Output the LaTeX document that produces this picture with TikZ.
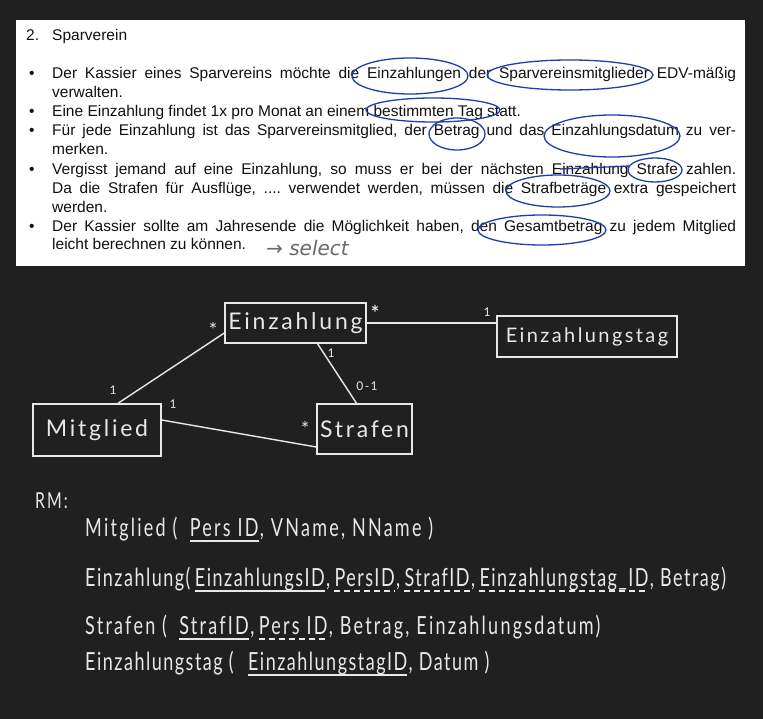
\documentclass[tikz,border=0pt]{standalone}
\usepackage{fontspec}
\setmainfont{Liberation Sans}
\newfontfamily\hand[FakeStretch=0.72, LetterSpace=9]{Lato}
\newfontfamily\handnarrow[FakeStretch=0.72, LetterSpace=6]{Lato}
\newfontfamily\handbox[LetterSpace=12]{Lato}
\newfontfamily\notefont{DejaVu Sans}
\usetikzlibrary{positioning}
\frenchspacing

\definecolor{board}{RGB}{33,32,32}
\definecolor{chalk}{RGB}{232,232,232}
\definecolor{pen}{RGB}{30,62,170}
\definecolor{ink}{RGB}{17,17,17}
\definecolor{pencil}{RGB}{105,105,105}

\begin{document}
\begin{tikzpicture}[
x=1pt, y=-1pt,
node distance=4pt,
txt/.style={anchor=base west, inner sep=0pt, text=ink,
font=\fontsize{15.5}{19}\selectfont},
circ/.style={draw=pen, line width=1.3pt},
entity/.style={draw=chalk, line width=1.4pt, text=chalk,
inner sep=0pt, font=\handbox\fontsize{23}{26}\selectfont},
assoc/.style={draw=chalk, line width=1.4pt},
mult/.style={text=chalk, inner sep=0pt,
font=\handbox\fontsize{12}{14}\selectfont},
star/.style={mult, font=\handbox\fontsize{20}{20}\selectfont},
rm/.style={anchor=base west, inner sep=0pt, text=chalk,
font=\hand\fontsize{25}{28}\selectfont},
rmn/.style={rm, font=\handnarrow\fontsize{25}{28}\selectfont},
pk/.style={draw=chalk, line width=1.2pt},
fk/.style={pk, dash pattern=on 6pt off 4pt}
]

% page and sheet
\fill[board] (0,0) rectangle (763,719);
\useasboundingbox (0,0) rectangle (763,719);
\fill[white] (16,20) rectangle (745,266);

% task text
\node[txt] (num) at (26,41) {2.};
\node[txt] (title) at (52,41) {Sparverein};

\foreach \y in {79,117,136,175,232}
  \node[txt] at (29,\y) {\textbullet};

\node[txt] (l1) at (52,79) {\makebox[684pt][s]{Der Kassier eines Sparvereins möchte die Einzahlungen der Sparvereinsmitglieder EDV-mäßig}};
\node[txt] (l2) at (52,98) {verwalten.};
\node[txt] (l3) at (52,117) {Eine Einzahlung findet 1x pro Monat an einem bestimmten Tag statt.};
\node[txt] (l4) at (52,136) {\makebox[684pt][s]{Für jede Einzahlung ist das Sparvereinsmitglied, der Betrag und das Einzahlungsdatum zu ver-}};
\node[txt] (l5) at (52,155) {merken.};
\node[txt] (l6) at (52,175) {\makebox[684pt][s]{Vergisst jemand auf eine Einzahlung, so muss er bei der nächsten Einzahlung Strafe zahlen.}};
\node[txt] (l7) at (52,194) {\makebox[684pt][s]{Da die Strafen für Ausflüge, .... verwendet werden, müssen die Strafbeträge extra gespeichert}};
\node[txt] (l8) at (52,213) {werden.};
\node[txt] (l9) at (52,232) {\makebox[684pt][s]{Der Kassier sollte am Jahresende die Möglichkeit haben, den Gesamtbetrag zu jedem Mitglied}};
\node[txt] (l10) at (52,250) {leicht berechnen zu können.};
\node[anchor=west, inner sep=0pt, text=pencil,
font=\notefont\itshape\fontsize{20}{22}\selectfont] (note) at (266,248) {→ select};

% marks
\draw[circ] (410,76) ellipse [x radius=58, y radius=18];
\draw[circ] (570,75) ellipse [x radius=83, y radius=15];
\draw[circ] (433,110) ellipse [x radius=67, y radius=12];
\draw[circ] (457,134) ellipse [x radius=28, y radius=16];
\draw[circ] (612,136) ellipse [x radius=68, y radius=21];
\draw[circ] (655,170) ellipse [x radius=27, y radius=12];
\draw[circ] (560,169) -- (630,166);
\draw[circ] (558,191) ellipse [x radius=52, y radius=16];
\draw[circ] (542,230) ellipse [x radius=64, y radius=15];

% ER diagram
\node[entity, minimum width=141pt, minimum height=40pt] (ein) at (295.5,323) {Einzahlung};
\node[entity, minimum width=180pt, minimum height=41pt,
font=\handbox\fontsize{20}{22}\selectfont] (tag) at (587,336.5) {Einzahlungstag};
\node[entity, minimum width=128pt, minimum height=52pt] (mit) at (97,430) {Mitglied};
\node[entity, minimum width=95pt, minimum height=50pt] (str) at (364.5,429) {Strafen};

\draw[assoc] (ein.east) -- (ein.east -| tag.west);
\draw[assoc] ([yshift=-10pt]ein.west) -- ([xshift=21pt]mit.north);
\draw[assoc] ([xshift=22pt]ein.south) -- ([xshift=-8pt]str.north);
\draw[assoc] ([yshift=10pt]mit.east) -- ([yshift=-18pt]str.west);

\node[star] (m1) at (213,330) {*};
\node[star, font=\handbox\bfseries\fontsize{20}{20}\selectfont] (m2) at (375,313) {*};
\node[mult] (m3) at (487,312) {1};
\node[mult] (m4) at (331,353) {1};
\node[mult] (m5) at (367,386) {0-1};
\node[mult] (m6) at (113,390) {1};
\node[mult] (m7) at (173,404) {1};
\node[star] (m8) at (305,429) {*};

% relational model
\node[rm, font=\hand\fontsize{22}{24}\selectfont] (rmlabel) at (35,508) {RM:};

\node[rm] (r1a) at (85,536) {Mitglied (};
\node[rm, base right=12pt of r1a] (r1b) {Pers ID};
\node[rm, base right=1pt of r1b] (r1c) {, VName, NName )};
\draw[pk] ([yshift=-5pt]r1b.base west) -- ([yshift=-5pt]r1b.base east);

\node[rmn] (r2a) at (85,586) {Einzahlung(};
\node[rmn, base right=of r2a] (r2b) {EinzahlungsID};
\node[rmn, base right=1pt of r2b] (r2c) {,};
\node[rmn, base right=of r2c] (r2d) {PersID};
\node[rmn, base right=1pt of r2d] (r2e) {,};
\node[rmn, base right=of r2e] (r2f) {StrafID};
\node[rmn, base right=1pt of r2f] (r2g) {,};
\node[rmn, base right=of r2g] (r2h) {Einzahlungstag\_ID};
\node[rmn, base right=1pt of r2h] (r2i) {, Betrag)};
\draw[pk] ([yshift=-5pt]r2b.base west) -- ([yshift=-5pt]r2b.base east);
\draw[fk] ([yshift=-5pt]r2d.base west) -- ([yshift=-5pt]r2d.base east);
\draw[fk] ([yshift=-5pt]r2f.base west) -- ([yshift=-5pt]r2f.base east);
\draw[fk] ([yshift=-5pt]r2h.base west) -- ([yshift=-5pt]r2h.base east);

\node[rm] (r3a) at (85,634) {Strafen (};
\node[rm, base right=12pt of r3a] (r3b) {StrafID};
\node[rm, base right=1pt of r3b] (r3c) {,};
\node[rm, base right=of r3c] (r3d) {Pers ID};
\node[rm, base right=1pt of r3d] (r3e) {, Betrag, Einzahlungsdatum)};
\draw[pk] ([yshift=-5pt]r3b.base west) -- ([yshift=-5pt]r3b.base east);
\draw[fk] ([yshift=-5pt]r3d.base west) -- ([yshift=-5pt]r3d.base east);

\node[rmn] (r4a) at (85,670) {Einzahlungstag (};
\node[rmn, base right=14pt of r4a] (r4b) {EinzahlungstagID};
\node[rmn, base right=1pt of r4b] (r4c) {, Datum )};
\draw[pk] ([yshift=-5pt]r4b.base west) -- ([yshift=-5pt]r4b.base east);

\end{tikzpicture}
\end{document}
